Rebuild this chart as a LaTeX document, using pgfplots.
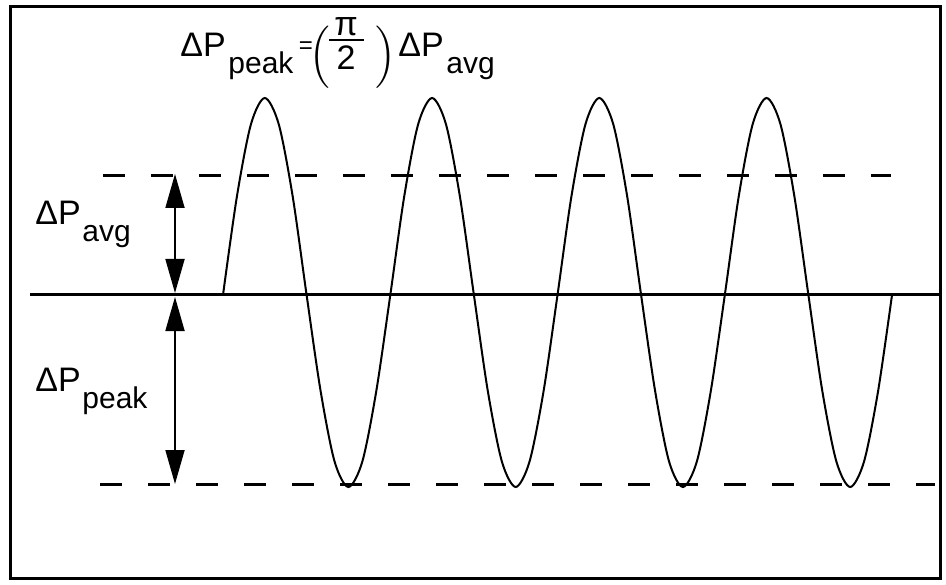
\documentclass[border=0pt]{standalone}
\usepackage{fontspec}
\setmainfont{Liberation Sans}
\usepackage{amsmath}
\usepackage{pgfplots}
\pgfplotsset{compat=1.18}
\usepackage{pgfplotstable}
\usetikzlibrary{arrows.meta}

% coordinates in picture pixels, y measured upwards
\pgfplotstableread{
x y
223.0 289
236.9 387.5
250.9 459.6
264.8 486
278.8 459.6
292.7 387.5
306.6 289
320.6 193
334.5 122.7
348.4 97
362.4 122.7
376.3 193
390.3 289
404.2 387.5
418.1 459.6
432.1 486
446.0 459.6
459.9 387.5
473.9 289
487.8 193
501.8 122.7
515.7 97
529.6 122.7
543.6 193
557.5 289
571.4 387.5
585.4 459.6
599.3 486
613.3 459.6
627.2 387.5
641.1 289
655.1 193
669.0 122.7
682.9 97
696.9 122.7
710.8 193
724.8 289
738.7 387.5
752.6 459.6
766.6 486
780.5 459.6
794.4 387.5
808.4 289
822.3 193
836.3 122.7
850.2 97
864.1 122.7
878.1 193
892.0 289
}\wave

\newcommand{\mainsz}{\fontsize{17}{20}\selectfont}
\newcommand{\subsz}{\fontsize{15}{18}\selectfont}

\begin{document}
\begin{tikzpicture}
\begin{axis}[
  scale only axis, width=465pt, height=285.5pt,
  xmin=10, xmax=940, ymin=6, ymax=577,
  xtick=\empty, ytick=\empty,
  axis line style={line width=1.5pt},
  clip=false,
]
\addplot[draw=none, forget plot] coordinates {(0,0)(946,584)};
% baseline
\addplot[black, line width=1.5pt] coordinates {(30,289)(940,289)};
% dashed levels
\addplot[black, line width=1.5pt, dash pattern=on 11pt off 13pt] coordinates {(103,408)(891,408)};
\addplot[black, line width=1.5pt, dash pattern=on 11pt off 13pt] coordinates {(100,100)(935,100)};
% wave
\addplot[black, line width=1pt, smooth] table {\wave};
% arrows
\addplot[black, line width=0.9pt, {Triangle[length=17pt,width=9.5pt]}-{Triangle[length=17pt,width=9.5pt]}]
  coordinates {(175,410)(175,291)};
\addplot[black, line width=0.9pt, {Triangle[length=17pt,width=9.5pt]}-{Triangle[length=17pt,width=9.5pt]}]
  coordinates {(175,287)(175,100)};
% fraction bar of pi/2
\addplot[black, line width=1pt] coordinates {(329,544)(364,544)};
% labels
\node[anchor=base west, inner sep=0pt, font=\mainsz] at (axis cs:35,359) {ΔP};
\node[anchor=base west, inner sep=0pt, font=\subsz] at (axis cs:82,342) {avg};
\node[anchor=base west, inner sep=0pt, font=\mainsz] at (axis cs:35,193) {ΔP};
\node[anchor=base west, inner sep=0pt, font=\subsz] at (axis cs:82,176) {peak};
% title
\node[anchor=base west, inner sep=0pt, font=\mainsz] at (axis cs:180,527) {ΔP};
\node[anchor=base west, inner sep=0pt, font=\subsz] at (axis cs:228,510) {peak};
\node[inner sep=0pt, font=\fontsize{12}{14}\selectfont] at (axis cs:306,536) {=};
\node[inner sep=0pt, font=\fontsize{18}{22}\selectfont] at (axis cs:320,527) {$\Big($};
\node[inner sep=0pt, font=\fontsize{18}{22}\selectfont] at (axis cs:386,527) {$\Big)$};
\node[anchor=base, inner sep=0pt, font=\mainsz] at (axis cs:346,548) {π};
\node[anchor=base, inner sep=0pt, font=\mainsz] at (axis cs:346,514) {2};
\node[anchor=base west, inner sep=0pt, font=\mainsz] at (axis cs:398,527) {ΔP};
\node[anchor=base west, inner sep=0pt, font=\subsz] at (axis cs:446,510) {avg};
\end{axis}
\end{tikzpicture}
\end{document}
